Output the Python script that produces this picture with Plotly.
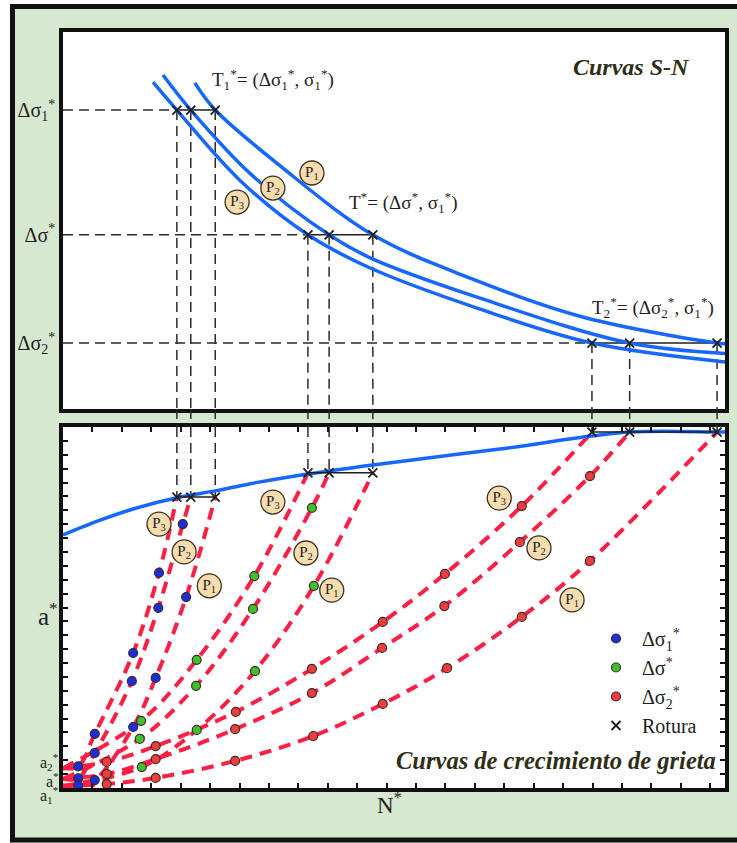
import plotly.graph_objects as go

W, H = 737, 843
SERIF = "Liberation Serif"
INK = "#1e1e1e"
BLUE_LINE = "#1667ff"
RED_DASH = "#ff1f45"
TITLE_INK = "#2e2e16"

# ---------------- upper panel: S-N curves ----------------
# stress amplitude levels (arbitrary units, 0-100 scale)
level_names = ["d1", "d", "d2"]
stress_level = {"d1": 79.3, "d": 46.2, "d2": 17.5}

# S-N curves for the three probability levels P3, P2, P1
sn_p3_N = [13.6, 17.2, 26.7, 37.0, 46.4, 63.0, 79.9, 100.5]
sn_p3_S = [86.7, 79.3, 60.7, 46.2, 37.4, 26.5, 17.5, 12.4]
sn_p2_N = [15.1, 19.3, 28.5, 40.2, 46.4, 63.0, 85.6, 100.5]
sn_p2_S = [88.6, 79.3, 62.1, 46.2, 40.1, 29.4, 17.5, 14.7]
sn_p1_N = [19.9, 23.0, 32.8, 46.8, 61.5, 78.5, 98.8, 100.5]
sn_p1_S = [86.5, 79.3, 64.5, 46.2, 34.7, 24.4, 17.5, 17.3]

# cycles to failure at each stress level (order: P3, P2, P1)
fail_N = {"d1": [17.2, 19.3, 23.0],
          "d": [37.0, 40.2, 46.8],
          "d2": [79.9, 85.6, 98.8]}

# ---------------- lower panel: crack growth ----------------
# critical crack size reached at failure for each stress level
crit_a = {"d1": 80.6, "d": 87.3, "d2": 98.6}
# initial crack sizes a2*, a*, a1* (used by P3, P2, P1)
a0 = [5.5, 2.5, 0.6]

# limit curve of critical crack size
limit_N = [0, 5.6, 10.6, 17.7, 23.0, 29.8, 37.0, 46.8, 66.0, 85.6, 98.8, 100.5]
limit_a = [70.1, 74.2, 77.3, 80.6, 82.3, 84.8, 87.0, 89.5, 93.9, 98.6, 98.6, 98.6]

# measured crack sizes along each growth curve (P3, P2, P1)
d1_N = [[2.3, 4.8, 10.6, 14.5],
        [2.3, 4.8, 10.4, 14.4, 18.1],
        [2.3, 4.8, 10.6, 14.0, 18.6]]
d1_a = [[6.0, 15.0, 37.4, 59.6],
        [2.7, 9.7, 29.6, 49.9, 73.1],
        [0.7, 2.2, 16.9, 30.5, 52.9]]
d_N = [[11.8, 20.2, 28.9],
       [11.6, 20.1, 28.7, 37.6],
       [11.9, 20.2, 29.0, 37.9]]
d_a = [[18.6, 35.5, 58.7],
       [13.6, 28.3, 49.6, 77.6],
       [5.8, 16.1, 32.4, 56.0]]
d2_N = [[6.6, 14.0, 26.1, 37.6, 48.3, 57.7, 69.3],
        [6.6, 14.0, 26.0, 37.6, 48.2, 57.6, 69.0, 79.6],
        [6.6, 14.0, 26.0, 37.8, 48.3, 58.0, 69.3, 79.6]]
d2_a = [[7.2, 11.6, 21.1, 33.0, 46.0, 59.3, 78.1],
        [3.9, 8.0, 16.3, 26.3, 38.8, 50.4, 68.1, 86.4],
        [1.1, 2.8, 7.5, 14.4, 23.3, 33.2, 47.4, 62.9]]

growth_N = {"d1": d1_N, "d": d_N, "d2": d2_N}
growth_a = {"d1": d1_a, "d": d_a, "d2": d2_a}
dot_color = {"d1": "#1c2ed8", "d": "#41c02c", "d2": "#ee3d3d"}
dot_name = {"d1": "Δσ<sub>1</sub><sup>*</sup>",
            "d": "Δσ<sup>*</sup>",
            "d2": "Δσ<sub>2</sub><sup>*</sup>"}

# probability labels
p_top = {"N": [37.6, 31.7, 26.3], "S": [62.6, 58.6, 54.9], "txt": ["1", "2", "3"]}
p_bot = {"N": [14.5, 18.3, 22.1, 31.7, 36.7, 40.6, 65.9, 71.9, 76.9],
         "a": [73.1, 65.4, 56.0, 79.2, 65.1, 54.8, 80.3, 66.5, 52.1],
         "txt": ["3", "2", "1", "3", "2", "1", "3", "2", "1"]}

# ---------------- layout geometry ----------------
x_dom = [63 / W, 725 / W]
top_dom = [1 - 409 / H, 1 - 32 / H]
bot_dom = [1 - 788 / H, 1 - 427 / H]

fig = go.Figure()
DASH = "10px,6px"

# ---- upper panel
hx, hy, vx, vy, sx, sy = [], [], [], [], [], []
for k in level_names:
    s = stress_level[k]
    nf = fail_N[k]
    hx += [0, nf[0], None]
    hy += [s, s, None]
    sx += [nf[0], nf[-1], None]
    sy += [s, s, None]
    for n in nf:
        vx += [n, n, None]
        vy += [s, 0, None]
fig.add_trace(go.Scatter(x=hx + vx, y=hy + vy, mode="lines",
                         line=dict(color="#2a2a2a", width=1.5, dash=DASH),
                         showlegend=False, hoverinfo="skip", xaxis="x", yaxis="y"))
fig.add_trace(go.Scatter(x=sx, y=sy, mode="lines", line=dict(color=INK, width=1.5),
                         showlegend=False, hoverinfo="skip", xaxis="x", yaxis="y"))
for nn, ss in [(sn_p3_N, sn_p3_S), (sn_p2_N, sn_p2_S), (sn_p1_N, sn_p1_S)]:
    fig.add_trace(go.Scatter(x=nn, y=ss, mode="lines",
                             line=dict(color=BLUE_LINE, width=3.5, shape="spline"),
                             showlegend=False, hoverinfo="skip", xaxis="x", yaxis="y"))
tx = [n for k in level_names for n in fail_N[k]]
ty = [stress_level[k] for k in level_names for _ in fail_N[k]]
fig.add_trace(go.Scatter(x=tx, y=ty, mode="markers",
                         marker=dict(symbol="x-thin", size=9, line=dict(color=INK, width=1.8)),
                         showlegend=False, hoverinfo="skip", xaxis="x", yaxis="y"))
fig.add_trace(go.Scatter(x=p_top["N"], y=p_top["S"], mode="markers+text",
                         text=["P<sub>%s</sub>" % t for t in p_top["txt"]],
                         textposition="middle center",
                         textfont=dict(family=SERIF, size=15, color=INK),
                         marker=dict(size=24, color="#f6dcae", line=dict(color="#3c2f1c", width=1.3)),
                         showlegend=False, hoverinfo="skip", xaxis="x", yaxis="y"))

# ---- lower panel
bvx, bvy, bsx, bsy = [], [], [], []
for k in level_names:
    for n in fail_N[k]:
        bvx += [n, n, None]
        bvy += [100, crit_a[k], None]
    bsx += [fail_N[k][0], fail_N[k][-1], None]
    bsy += [crit_a[k], crit_a[k], None]
fig.add_trace(go.Scatter(x=bvx, y=bvy, mode="lines",
                         line=dict(color="#2a2a2a", width=1.5, dash=DASH),
                         showlegend=False, hoverinfo="skip", xaxis="x2", yaxis="y2"))

# crack growth curves: initial size -> measurements -> failure
for k in level_names:
    for i in range(3):
        cx = [0] + growth_N[k][i] + [fail_N[k][i]]
        cy = [a0[i]] + growth_a[k][i] + [crit_a[k]]
        fig.add_trace(go.Scatter(x=cx, y=cy, mode="lines",
                                 line=dict(color=RED_DASH, width=4, dash="12px,8px", shape="spline"),
                                 showlegend=False, hoverinfo="skip", xaxis="x2", yaxis="y2"))

fig.add_trace(go.Scatter(x=limit_N, y=limit_a, mode="lines",
                         line=dict(color=BLUE_LINE, width=3.5, shape="spline"),
                         showlegend=False, hoverinfo="skip", xaxis="x2", yaxis="y2"))
fig.add_trace(go.Scatter(x=bsx, y=bsy, mode="lines", line=dict(color=INK, width=1.5),
                         showlegend=False, hoverinfo="skip", xaxis="x2", yaxis="y2"))

for k in level_names:
    xs = [n for row in growth_N[k] for n in row]
    ys = [a for row in growth_a[k] for a in row]
    fig.add_trace(go.Scatter(x=xs, y=ys, mode="markers", name=dot_name[k],
                             marker=dict(size=9, color=dot_color[k],
                                         line=dict(color="#3a2a2a", width=1.2)),
                             hoverinfo="skip", xaxis="x2", yaxis="y2"))

fx = [n for k in level_names for n in fail_N[k]]
fy = [crit_a[k] for k in level_names for _ in fail_N[k]]
fig.add_trace(go.Scatter(x=fx, y=fy, mode="markers", name="Rotura",
                         marker=dict(symbol="x-thin", size=9, color=INK,
                                     line=dict(color=INK, width=1.8)),
                         hoverinfo="skip", xaxis="x2", yaxis="y2"))

fig.add_trace(go.Scatter(x=p_bot["N"], y=p_bot["a"], mode="markers+text",
                         text=["P<sub>%s</sub>" % t for t in p_bot["txt"]],
                         textposition="middle center",
                         textfont=dict(family=SERIF, size=15, color=INK),
                         marker=dict(size=24, color="#f6dcae", line=dict(color="#3c2f1c", width=1.3)),
                         showlegend=False, hoverinfo="skip", xaxis="x2", yaxis="y2"))

# ---- shapes: outer frame and link lines between the panels
shapes = [
    dict(type="rect", xref="paper", yref="paper", x0=0, x1=10 / W, y0=0, y1=1,
         fillcolor="white", line=dict(width=0), layer="below"),
    dict(type="rect", xref="paper", yref="paper", x0=0, x1=1, y0=1 - 4 / H, y1=1,
         fillcolor="white", line=dict(width=0), layer="below"),
    dict(type="rect", xref="paper", yref="paper", x0=12.5 / W, x1=1.03,
         y0=1 - 840 / H, y1=1 - 6.5 / H, line=dict(color="#111", width=5),
         fillcolor="rgba(0,0,0,0)"),
]
for k in level_names:
    for n in fail_N[k]:
        shapes.append(dict(type="line", xref="x", yref="paper", x0=n, x1=n,
                           y0=top_dom[0], y1=bot_dom[1],
                           line=dict(color="#2a2a2a", width=1.5, dash=DASH)))

# ---- text annotations
T_FONT = dict(family=SERIF, size=19, color=INK)
ann = [
    dict(text="<b><i>Curvas S-N</i></b>", xref="paper", yref="paper",
         x=692 / W, y=1 - 67 / H, xanchor="right", yanchor="middle", showarrow=False,
         font=dict(family=SERIF, size=24, color=TITLE_INK)),
    dict(text="<b><i>Curvas de crecimiento de grieta</i></b>", xref="paper", yref="paper",
         x=718 / W, y=1 - 760 / H, xanchor="right", yanchor="middle", showarrow=False,
         font=dict(family=SERIF, size=24.5, color=TITLE_INK)),
    dict(text="T<sub>1</sub><sup>*</sup>= (Δσ<sub>1</sub><sup>*</sup>, σ<sub>1</sub><sup>*</sup>)",
         xref="x", yref="y", x=22.2, y=87.3, xanchor="left", yanchor="middle",
         showarrow=False, font=T_FONT),
    dict(text="T<sup>*</sup>= (Δσ<sup>*</sup>, σ<sub>1</sub><sup>*</sup>)",
         xref="x", yref="y", x=42.9, y=54.9, xanchor="left", yanchor="middle",
         showarrow=False, font=T_FONT),
    dict(text="T<sub>2</sub><sup>*</sup>= (Δσ<sub>2</sub><sup>*</sup>, σ<sub>1</sub><sup>*</sup>)",
         xref="x", yref="y", x=79.6, y=26.8, xanchor="left", yanchor="middle",
         showarrow=False, font=T_FONT),
    dict(text="a<sup>*</sup>", xref="paper", yref="paper", x=48 / W, y=1 - 614 / H,
         xanchor="center", yanchor="middle", showarrow=False,
         font=dict(family=SERIF, size=25, color=INK)),
    dict(text="N<sup>*</sup>", xref="paper", yref="paper", x=389 / W, y=1 - 803 / H,
         xanchor="center", yanchor="middle", showarrow=False,
         font=dict(family=SERIF, size=23, color=INK)),
]
for lbl, val, shift in [("a<sub>2</sub><sup>*</sup>", a0[0], 6),
                        ("a<sup>*</sup>", a0[1], -1),
                        ("a<sub>1</sub><sup>*</sup>", a0[2], -9)]:
    ann.append(dict(text=lbl, xref="paper", yref="y2", x=61 / W, y=val, yshift=shift,
                    xanchor="right", yanchor="middle", showarrow=False,
                    font=dict(family=SERIF, size=16, color=INK)))

fig.update_layout(
    width=W, height=H, margin=dict(l=0, r=0, t=0, b=0),
    paper_bgcolor="#d6e8cf", plot_bgcolor="white",
    font=dict(family=SERIF, color=INK),
    shapes=shapes, annotations=ann,
    showlegend=True,
    legend=dict(x=590 / W, y=1 - 619 / H, xanchor="left", yanchor="top",
                bgcolor="white", borderwidth=0, tracegroupgap=0, itemwidth=42,
                font=dict(family=SERIF, size=20, color=INK)),
    xaxis=dict(domain=x_dom, anchor="y", range=[0, 100], showline=True, mirror=True,
               linecolor="#111", linewidth=3.5, showgrid=False, zeroline=False,
               ticks="", showticklabels=False),
    yaxis=dict(domain=top_dom, anchor="x", range=[0, 100], showline=True, mirror=True,
               linecolor="#111", linewidth=3.5, showgrid=False, zeroline=False, ticks="",
               tickvals=[stress_level["d2"], stress_level["d"], stress_level["d1"]],
               ticktext=["Δσ<sub>2</sub><sup>*</sup>", "Δσ<sup>*</sup>", "Δσ<sub>1</sub><sup>*</sup>"],
               tickfont=dict(family=SERIF, size=20, color=INK)),
    xaxis2=dict(domain=x_dom, anchor="y2", range=[0, 100], showline=True, mirror="allticks",
                linecolor="#111", linewidth=4, showgrid=False, zeroline=False,
                ticks="inside", tick0=0, dtick=100 / 22.5, ticklen=5, tickwidth=2,
                tickcolor="#111", showticklabels=False),
    yaxis2=dict(domain=bot_dom, anchor="x2", range=[0, 100], showline=True, mirror="allticks",
                linecolor="#111", linewidth=4, showgrid=False, zeroline=False,
                ticks="inside", tick0=0, dtick=100 / 26, ticklen=5, tickwidth=2,
                tickcolor="#111", showticklabels=False),
)

fig.write_html("out.html")
